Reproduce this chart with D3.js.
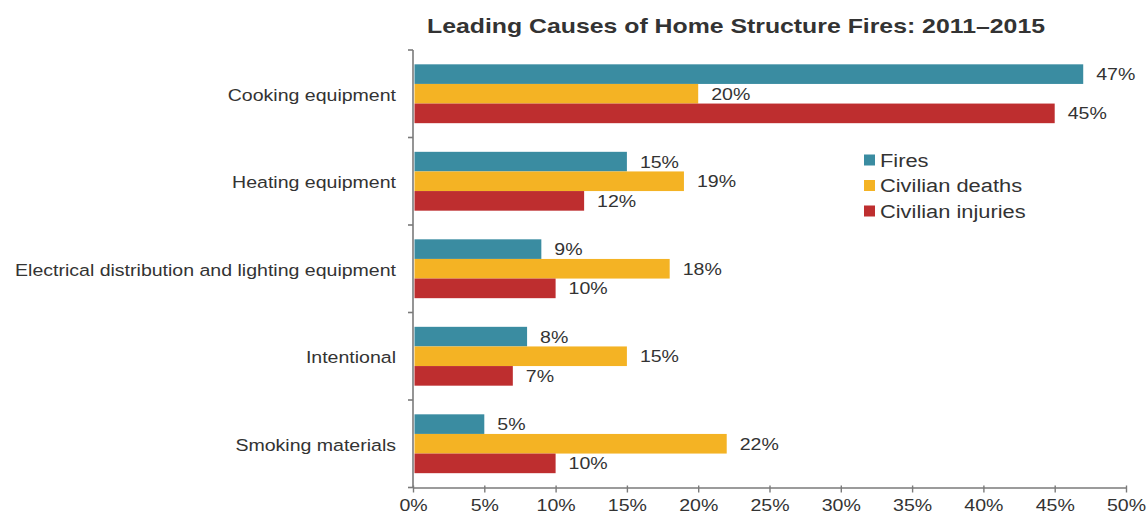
<!DOCTYPE html>
<html>
<head>
<meta charset="utf-8">
<script src="https://cdn.jsdelivr.net/npm/d3@7"></script>
<style>
  html, body { margin: 0; padding: 0; background: #fff; }
  svg { display: block; font-family: "Liberation Sans", Arial, Helvetica, sans-serif; }
</style>
</head>
<body>
<svg id="chart" width="1148" height="520"></svg>
<script>
// Leading causes of home structure fires, share of totals (%)
const categories = [
  "Cooking equipment",
  "Heating equipment",
  "Electrical distribution and lighting equipment",
  "Intentional",
  "Smoking materials"
];
const seriesNames = ["Fires", "Civilian deaths", "Civilian injuries"];
const fires = [47, 15, 9, 8, 5];
const deaths = [20, 19, 18, 15, 22];
const injuries = [45, 12, 10, 7, 10];
const xTicks = [0, 5, 10, 15, 20, 25, 30, 35, 40, 45, 50];
const colors = ["#3a8ca1", "#f4b324", "#be2e2f"];

const seriesValues = [fires, deaths, injuries];
const rows = categories.map((c, i) => ({
  cat: c,
  vals: seriesNames.map((s, j) => ({ series: s, value: seriesValues[j][i], idx: j }))
}));

const svg = d3.select("#chart");
const W = 1148, H = 520;
const margin = { top: 50, right: 22, bottom: 32.5, left: 413 };
const textColor = "#333";
const stretchX = 1.15; // slightly wide lettering

// Widen a text selection horizontally around its own x anchor
function widen(sel, k) {
  sel.each(function () {
    const t = d3.select(this);
    const ax = +t.attr("x") || 0;
    t.attr("transform", `translate(${ax},0) scale(${k},1) translate(${-ax},0)`);
  });
}

const x = d3.scaleLinear().domain([0, 50]).range([margin.left, W - margin.right]);
const y = d3.scaleBand().domain(categories).range([margin.top, H - margin.bottom]);
const inner = d3.scaleBand().domain(seriesNames).range([0, y.bandwidth()]).paddingOuter(0.73).paddingInner(0);

// Title
svg.append("text")
  .attr("x", 736).attr("y", 33)
  .attr("text-anchor", "middle")
  .attr("font-weight", "bold")
  .attr("font-size", 21)
  .attr("fill", textColor)
  .attr("textLength", 618)
  .attr("lengthAdjust", "spacingAndGlyphs")
  .text("Leading Causes of Home Structure Fires: 2011\u20132015");

// Bars
const groups = svg.append("g").selectAll("g")
  .data(rows).join("g")
  .attr("transform", d => `translate(0,${y(d.cat)})`);

groups.selectAll("rect")
  .data(d => d.vals).join("rect")
  .attr("x", x(0) + 1.5)
  .attr("y", d => inner(d.series))
  .attr("width", d => x(d.value) - x(0) - 1.5)
  .attr("height", inner.bandwidth())
  .attr("fill", d => colors[d.idx]);

groups.selectAll("text")
  .data(d => d.vals).join("text")
  .attr("x", d => x(d.value) + 13)
  .attr("y", d => inner(d.series) + inner.bandwidth() / 2)
  .attr("dy", "0.36em")
  .attr("font-size", 17)
  .attr("fill", textColor)
  .text(d => d.value + "%")
  .call(widen, stretchX);

// Y axis: category labels
const yAxis = svg.append("g")
  .attr("transform", `translate(${x(0) - 17},0)`)
  .call(d3.axisLeft(y).tickSize(0).tickPadding(0));
yAxis.select(".domain").remove();
yAxis.selectAll("text")
  .attr("font-size", 17).attr("fill", textColor).attr("font-family", null)
  .attr("dy", "0.4em")
  .call(widen, stretchX);

// Y axis line with ticks at category boundaries
const yEdges = categories.map(c => y(c)).concat([y(categories[categories.length - 1]) + y.bandwidth()]);
const yl = svg.append("g").attr("stroke", "#7a7a7a").attr("stroke-width", 1.6);
yl.append("line")
  .attr("x1", x(0)).attr("x2", x(0))
  .attr("y1", yEdges[0]).attr("y2", yEdges[yEdges.length - 1]);
yl.selectAll("line.tick")
  .data(yEdges).join("line").attr("class", "tick")
  .attr("x1", x(0) - 5).attr("x2", x(0))
  .attr("y1", d => d).attr("y2", d => d);

// X axis
const xAxis = svg.append("g")
  .attr("transform", `translate(0,${H - margin.bottom})`)
  .call(d3.axisBottom(x).tickValues(xTicks).tickFormat(d => d + "%").tickSize(5).tickPadding(6).tickSizeOuter(0));
xAxis.select(".domain").attr("stroke", "#7a7a7a").attr("stroke-width", 1.6);
xAxis.selectAll(".tick line").attr("stroke", "#7a7a7a").attr("stroke-width", 1.4).attr("y1", -2);
xAxis.selectAll("text")
  .attr("font-size", 17).attr("fill", textColor).attr("font-family", null)
  .call(widen, stretchX);

// Legend
const legend = svg.append("g").attr("transform", "translate(864,160)");
const li = legend.selectAll("g").data(seriesNames).join("g")
  .attr("transform", (d, i) => `translate(0,${i * 25.5})`);
li.append("rect")
  .attr("x", 0).attr("y", -5.5).attr("width", 11).attr("height", 11)
  .attr("fill", (d, i) => colors[i]);
li.append("text")
  .attr("x", 16).attr("y", 0).attr("dy", "0.36em")
  .attr("font-size", 19).attr("fill", textColor)
  .text(d => d)
  .call(widen, stretchX);
</script>
</body>
</html>
